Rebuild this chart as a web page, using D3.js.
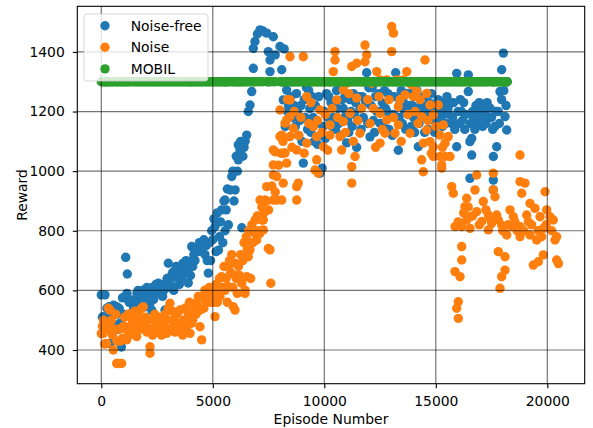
<!DOCTYPE html>
<html>
<head>
<meta charset="utf-8">
<script src="https://cdnjs.cloudflare.com/ajax/libs/d3/7.8.5/d3.min.js"></script>
<style>
  body { margin: 0; background: #fff; }
  svg text { font-family: "DejaVu Sans", sans-serif; fill: #000; }
</style>
</head>
<body>
<div class="visHolder"></div>
<script>
const w = 593;
const h = 428;

const seriesNames = ['Noise-free', 'Noise', 'MOBIL'];
const seriesColors = ['#1f77b4', '#ff7f0e', '#2ca02c'];
const xTicks = [0, 5000, 10000, 15000, 20000];
const yTicks = [400, 600, 800, 1000, 1200, 1400];

// [episode, reward]
const noiseFree = [
  [0,585],[50,510],[90,512],[150,470],[166,585],[200,500],[250,540],[300,470],[350,545],[400,422],[450,520],[500,490],[550,550],
  [614,467],[690,545],[700,520],[750,470],[800,540],[850,490],[900,410],[950,575],[1000,520],[1063,579],[1094,711],[1150,590],[1166,655],[1250,560],
  [1300,520],[1363,568],[1450,540],[1500,500],[1550,560],[1600,590],[1650,600],[1700,560],[1750,580],[1800,595],[1850,570],[1883,601],[1960,545],[2000,580],
  [2050,610],[2100,600],[2150,590],[2200,560],[2260,534],[2300,610],[2350,570],[2400,600],[2450,620],[2500,590],[2556,624],[2600,600],[2650,600],[2700,620],
  [2750,580],[2800,600],[2857,534],[2930,534],[2950,640],[3004,691],[3050,610],[3100,620],[3150,650],[3200,660],[3250,600],[3305,646],[3350,680],[3400,660],
  [3450,640],[3500,620],[3550,660],[3600,640],[3650,690],[3700,670],[3753,680],[3800,700],[3850,660],[3900,625],[3950,680],[4000,650],[4050,700],[4054,747],
  [4100,680],[4150,720],[4200,700],[4250,740],[4300,730],[4350,747],[4400,760],[4450,740],[4500,730],[4550,750],[4600,770],[4650,720],[4700,750],[4750,700],
  [4800,658],[4850,760],[4900,700],[4950,800],[5000,770],[5050,840],[5100,814],[5150,730],[5200,860],[5250,735],[5300,780],[5350,830],[5400,870],[5450,760],
  [5500,900],[5547,903],[5550,800],[5600,870],[5650,940],[5700,820],[5780,937],[5850,982],[5900,1000],[5950,900],[6000,937],[6050,1050],[6100,1000],[6144,1038],
  [6144,1088],[6220,1071],[6250,1100],[6300,810],[6350,1050],[6400,1080],[6450,1100],[6520,1121],[6590,1200],[6668,1222],[6744,1267],[6816,1345],[6816,1412],
  [6892,1435],[7000,1460],[7117,1474],[7250,1470],[7417,1463],[7489,1401],[7565,1373],[7565,1334],[7713,1451],[7800,1390],
  [8013,1418],[8090,1340],[8100,1300],[8160,1239],[8200,1410],[8250,1150],[8312,1272],[8350,1200],[8400,1220],[8500,1250],[8550,1300],[8600,1180],[8650,1220],
  [8700,1150],[8750,1260],[8800,1200],[8850,1120],[8900,1170],[8950,1220],[9000,1100],[9058,1027],[9100,1240],[9150,1180],[9200,1280],[9250,1140],[9300,1270],
  [9350,1210],[9400,1130],[9450,1250],[9500,1180],[9550,1100],[9600,1220],[9650,1160],[9700,1090],[9750,1250],[9807,993],[9850,1120],[9900,1010],[9950,1150],
  [10000,1200],[10050,1110],[10100,1260],[10150,1180],[10200,1250],[10250,1300],[10300,1230],[10350,1150],[10400,1180],[10450,1230],[10500,1140],[10550,1270],
  [10600,1210],[10650,1160],[10700,1280],[10750,1120],[10800,1240],[10850,1210],[10900,1180],[10950,1260],[11000,1095],[11050,1170],[11100,1130],[11150,1240],
  [11200,1200],[11250,1150],[11300,1260],[11350,1190],[11400,1230],[11450,1080],[11500,1170],[11550,1250],[11600,1210],[11650,1140],[11700,1250],[11750,1180],
  [11800,1300],[11850,1230],[11900,1330],[11950,1160],[12000,1280],[12050,1115],[12100,1220],[12150,1280],[12200,1170],[12250,1130],[12300,1250],[12350,1200],
  [12400,1200],[12450,1260],[12500,1160],[12550,1200],[12600,1230],[12650,1150],[12700,1270],[12750,1210],[12800,1200],[12850,1260],[12900,1140],[12950,1190],
  [13000,1250],[13050,1120],[13100,1190],[13150,1250],[13200,1330],[13250,1300],[13320,1070],[13350,1180],[13400,1230],[13450,1270],[13500,1160],[13550,1230],
  [13600,1200],[13650,1140],[13700,1260],[13750,1190],[13800,1220],[13850,1260],[13900,1150],[13950,1220],[14000,1180],[14050,1130],[14100,1210],[14150,1270],
  [14215,1082],[14250,1160],[14300,1240],[14350,1220],[14400,1190],[14450,1250],[14500,1130],[14550,1180],[14600,1200],[14650,1140],[14700,1230],[14750,1190],
  [14800,1260],[14850,1220],[14900,1170],[14950,1130],[15000,1210],[15050,1160],[15100,1240],[15150,1200],[15200,1180],[15250,1230],[15300,1150],[15350,1190],
  [15400,1220],[15450,1160],[15500,1250],[15550,1210],[15600,1190],[15650,1230],[15700,1160],[15750,1180],[15800,1230],[15850,1140],[15937,1328],[15937,1082],
  [16000,1200],[16050,1160],[16100,1240],[16150,1200],[16200,1170],[16250,1230],[16300,1140],[16350,1190],[16457,1323],[16457,1267],[16530,1099],[16530,976],
  [16550,1160],[16610,1054],[16610,1110],[16650,1200],[16700,1180],[16750,1140],[16800,1220],[16850,1190],[16900,1160],[16950,1230],[17000,1200],[17050,1170],
  [17100,1150],[17150,1210],[17200,1190],[17250,1160],[17300,1230],[17350,1180],[17430,1212],[17500,1180],[17550,1140],[17580,1049],[17580,970],[17580,937],
  [17650,1150],[17700,1200],[17730,1082],[17800,1200],[17850,1160],[17879,1267],[17950,1240],[17955,1340],[18030,1396],[18050,1270],[18103,1183],[18150,1220],
  [18180,1138],[18200,1300]
];

const noise = [
  [0,455],[50,480],[90,456],[100,500],[150,420],[200,470],[240,422],[314,540],[350,480],[395,534],[450,500],[500,450],[540,400],[600,470],
  [650,520],[690,355],[700,430],[762,355],[800,470],[850,430],[915,355],[950,440],[1000,480],[1050,510],[1100,470],[1139,434],[1200,520],[1250,450],
  [1300,480],[1350,520],[1400,500],[1450,460],[1500,530],[1550,480],[1587,445],[1650,510],[1700,520],[1750,470],[1800,540],[1850,500],[1883,545],[1950,480],
  [2000,510],[2050,460],[2100,500],[2150,470],[2184,411],[2184,389],[2250,470],[2300,450],[2350,500],[2400,520],[2450,480],[2500,460],[2550,510],[2600,490],
  [2650,470],[2700,450],[2750,490],[2800,480],[2850,520],[2900,500],[2933,456],[3000,540],[3050,470],[3081,557],[3150,500],[3200,530],[3250,480],[3300,460],
  [3350,520],[3400,520],[3450,490],[3500,470],[3529,534],[3600,480],[3650,450],[3700,500],[3750,540],[3800,470],[3850,490],[3900,520],[3950,560],[3978,456],
  [4053,490],[4100,500],[4150,540],[4202,557],[4250,520],[4300,560],[4350,580],[4426,534],[4426,478],[4502,434],[4550,580],[4600,540],[4650,601],[4700,560],
  [4726,601],[4800,590],[4850,610],[4900,560],[4950,580],[5000,600],[5050,560],[5099,512],[5150,620],[5200,560],[5250,590],[5300,640],[5323,579],[5399,646],
  [5450,610],[5500,680],[5550,600],[5600,640],[5650,560],[5695,612],[5700,680],[5750,700],[5800,660],[5850,720],[5900,610],[5919,545],[5996,534],[5996,691],
  [6000,650],[6050,640],[6100,590],[6150,680],[6200,650],[6250,720],[6296,624],[6350,700],[6400,760],[6444,601],[6444,590],[6500,780],[6520,646],[6550,740],
  [6592,713],[6600,800],[6650,760],[6668,736],[6700,640],[6744,758],[6750,820],[6800,760],[6892,836],[6900,790],[6969,769],[7000,850],[7050,800],[7100,790],
  [7117,903],[7190,836],[7200,880],[7265,803],[7265,836],[7300,860],[7340,903],[7400,900],[7417,948],[7490,741],[7500,870],[7565,736],[7600,624],[7650,950],
  [7713,903],[7713,987],[7713,1021],[7713,1071],[7790,1065],[7800,930],[7865,982],[7865,903],[7950,1020],[8013,1205],[8013,1116],[8050,1060],[8090,903],
  [8090,1121],[8150,1100],[8160,960],[8160,1060],[8240,1161],[8240,1061],[8312,1027],[8312,1172],[8350,1240],[8462,1239],[8462,1116],[8462,1183],[8462,1384],
  [8550,1080],[8610,1144],[8650,1200],[8762,948],[8762,903],[8762,1071],[8835,960],[8850,1120],[8950,1180],[9058,1384],[9100,1060],[9210,1250],[9210,1094],
  [9300,1160],[9400,1230],[9507,1149],[9583,1004],[9657,1116],[9657,1038],[9700,1170],[9731,993],[9807,1205],[9900,1130],[9955,1082],[10050,1190],[10150,1070],
  [10255,1155],[10255,1121],[10350,1210],[10404,1334],[10480,1401],[10480,1373],[10556,1239],[10600,1180],[10704,1116],[10780,1071],[10852,1273],[10852,1166],
  [10950,1130],[11004,1295],[11100,1260],[11153,1194],[11230,1351],[11230,1015],[11230,960],[11300,1100],[11377,1049],[11453,1362],[11453,1245],[11500,1170],
  [11600,1127],[11677,1211],[11750,1300],[11825,1423],[11825,1367],[11900,1390],[11950,1240],[12050,1160],[12126,1295],[12200,1210],[12300,1080],[12350,1334],
  [12450,1250],[12500,1306],[12500,1194],[12500,1094],[12600,1140],[12720,1127],[12800,1306],[12800,1172],[12900,1240],[13022,1485],[13100,1463],[13022,1401],
  [13100,1180],[13170,1127],[13250,1306],[13318,1217],[13318,1155],[13400,1240],[13450,1100],[13543,1306],[13619,1256],[13695,1334],[13750,1190],[13843,1127],
  [13900,1290],[13991,1250],[14067,1200],[14143,1267],[14200,1160],[14300,1240],[14368,1183],[14368,1038],[14440,1094],[14440,998],[14516,1373],[14592,1261],
  [14592,1138],[14650,1170],[14740,1222],[14740,1099],[14800,1060],[14888,1189],[14888,1082],[14888,1049],[15000,1150],[15112,1222],[15188,1121],[15188,1049],
  [15264,1021],[15264,1010],[15300,1080],[15336,1155],[15412,1094],[15412,1049],[15560,1116],[15637,1049],[15713,948],[15785,926],[15861,814],[15861,663],
  [15937,540],[16000,830],[16010,562],[16010,506],[16086,646],[16161,814],[16161,747],[16161,702],[16250,860],[16310,881],[16385,909],[16385,836],[16450,880],
  [16534,847],[16534,808],[16650,850],[16758,937],[16834,987],[16834,864],[16950,820],[17058,831],[17130,898],[17250,870],[17355,853],[17355,803],[17450,840],
  [17507,825],[17578,993],[17578,937],[17655,914],[17730,853],[17803,836],[17803,730],[17879,607],[17955,819],[17955,646],[18000,800],[18103,713],[18103,668],
  [18180,786],[18250,820],[18327,870],[18404,814],[18478,847],[18550,830],[18650,800],[18776,1054],[18776,965],[18776,814],[18776,780],[18852,926],[18950,800],
  [19000,960],[19076,853],[19150,830],[19224,892],[19224,786],[19300,820],[19373,685],[19448,875],[19524,769],[19597,696],[19600,800],[19673,847],[19748,780],
  [19821,808],[19821,719],[19897,931],[19950,820],[19973,870],[20121,847],[20200,800],[20269,836],[20345,769],[20420,780],[20420,702],[20500,690]
];

// MOBIL baseline, evaluated at the same episodes as the noise-free agent
const mobilReward = 1300;
const mobilEpisodes = noiseFree.map(d => d[0]);

const margin = { left: 77.3, right: 584.7, top: 6.3, bottom: 383.7 };

var svg = d3
  .select('.visHolder')
  .append('svg')
  .attr('width', w)
  .attr('height', h);

const xScale = d3.scaleLinear()
  .domain([-1076, 21677])
  .range([margin.left, margin.right]);

const yScale = d3.scaleLinear()
  .domain([287, 1553])
  .range([margin.bottom, margin.top]);

const r = 4.7;

svg.append('g')
  .selectAll('circle')
  .data(noiseFree)
  .enter()
  .append('circle')
  .attr('cx', d => xScale(d[0]))
  .attr('cy', d => yScale(d[1]))
  .attr('r', r)
  .style('fill', seriesColors[0]);

svg.append('g')
  .selectAll('circle')
  .data(noise)
  .enter()
  .append('circle')
  .attr('cx', d => xScale(d[0]))
  .attr('cy', d => yScale(d[1]))
  .attr('r', r)
  .style('fill', seriesColors[1]);

svg.append('g')
  .selectAll('circle')
  .data(mobilEpisodes)
  .enter()
  .append('circle')
  .attr('cx', d => xScale(d))
  .attr('cy', yScale(mobilReward))
  .attr('r', r)
  .style('fill', seriesColors[2]);

// grid sits above the markers, like matplotlib's default
const grid = svg.append('g')
  .attr('stroke', '#000')
  .attr('stroke-opacity', 0.55)
  .attr('stroke-width', 1.2);

grid.selectAll('.gx')
  .data(xTicks)
  .enter()
  .append('line')
  .attr('x1', d => xScale(d))
  .attr('x2', d => xScale(d))
  .attr('y1', margin.top)
  .attr('y2', margin.bottom);

grid.selectAll('.gy')
  .data(yTicks)
  .enter()
  .append('line')
  .attr('x1', margin.left)
  .attr('x2', margin.right)
  .attr('y1', d => yScale(d))
  .attr('y2', d => yScale(d));

const xAxis = d3.axisBottom(xScale).tickValues(xTicks).tickFormat(d3.format('d')).tickSize(4.5).tickPadding(8);
svg.append('g')
  .attr('transform', 'translate(0,' + margin.bottom + ')')
  .call(xAxis)
  .attr('id', 'x-axis');

const yAxis = d3.axisLeft(yScale).tickValues(yTicks).tickFormat(d3.format('d')).tickSize(4.5).tickPadding(8);
svg.append('g')
  .attr('transform', 'translate(' + margin.left + ',0)')
  .call(yAxis)
  .attr('id', 'y-axis');

svg.selectAll('#x-axis .domain, #y-axis .domain').remove();
svg.selectAll('.tick text').style('font-size', '13.9px').style('font-family', '"DejaVu Sans", sans-serif');
svg.selectAll('.tick line').attr('stroke-width', 1.1);

svg.append('rect')
  .attr('x', margin.left)
  .attr('y', margin.top)
  .attr('width', margin.right - margin.left)
  .attr('height', margin.bottom - margin.top)
  .attr('fill', 'none')
  .attr('stroke', '#000')
  .attr('stroke-width', 1.1);

svg.append('text')
  .attr('transform', 'rotate(-90)')
  .attr('x', -(margin.top + margin.bottom) / 2)
  .attr('y', 26.5)
  .attr('text-anchor', 'middle')
  .style('font-size', '13.9px')
  .text('Reward');

svg.append('text')
  .attr('x', (margin.left + margin.right) / 2)
  .attr('y', 423.5)
  .attr('text-anchor', 'middle')
  .style('font-size', '13.9px')
  .text('Episode Number');

// legend
const legend = svg.append('g');
legend.append('rect')
  .attr('x', 84)
  .attr('y', 14)
  .attr('width', 124)
  .attr('height', 67)
  .attr('rx', 3)
  .attr('fill', '#fff')
  .attr('fill-opacity', 0.8)
  .attr('stroke', '#ccc')
  .attr('stroke-opacity', 0.8);

const rows = legend.selectAll('.row')
  .data(seriesNames)
  .enter()
  .append('g')
  .attr('transform', (d, i) => 'translate(105,' + (25.7 + i * 21.6) + ')');

rows.append('circle')
  .attr('r', r)
  .style('fill', (d, i) => seriesColors[i]);

rows.append('text')
  .attr('x', 25.7)
  .attr('dy', '0.35em')
  .style('font-size', '13.9px')
  .text(d => d);
</script>
</body>
</html>
